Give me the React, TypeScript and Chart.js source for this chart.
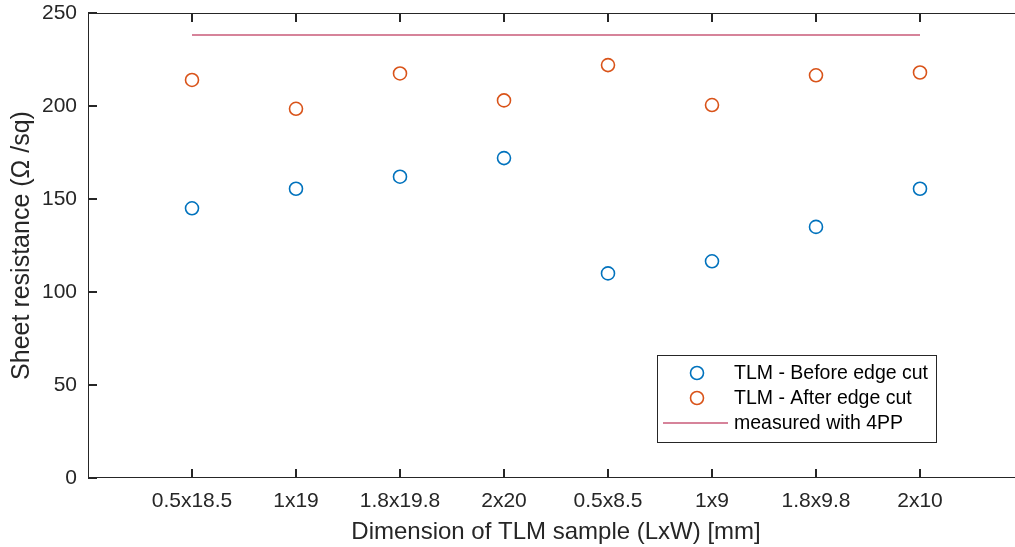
import React, { useEffect, useRef } from "react";
import { Chart, registerables } from "chart.js";

Chart.register(...registerables);

const categories = ["0.5x18.5", "1x19", "1.8x19.8", "2x20", "0.5x8.5", "1x9", "1.8x9.8", "2x10"];
const beforeCut = [145, 155.5, 162, 172, 110, 116.5, 135, 155.5];
const afterCut = [214, 198.5, 217.5, 203, 222, 200.5, 216.5, 218];
const fourPP = 238.2;
const yTicks = [0, 50, 100, 150, 200, 250];
const seriesNames = ["TLM - Before edge cut", "TLM - After edge cut", "measured with 4PP"];

const BLUE = "#0072BD";
const ORANGE = "#D95319";
const PINK = "#C95A78";
const AXIS = "#262626";
const FONT = "'Liberation Sans', Arial, sans-serif";

const boxPlugin = {
  id: "matlabBox",
  afterDraw(chart: any) {
    const ctx = chart.ctx;
    const { left, right, top, bottom } = chart.chartArea;
    const xs = chart.scales.x;
    const ys = chart.scales.y;
    ctx.save();
    ctx.strokeStyle = AXIS;
    ctx.lineWidth = 1;
    ctx.beginPath();
    ctx.rect(left + 0.5, top + 0.5, right - left - 1, bottom - top - 1);
    ctx.stroke();
    const tl = 9;
    ctx.lineWidth = 2;
    ctx.beginPath();
    categories.forEach((_, i) => {
      const px = Math.round(xs.getPixelForValue(i + 1));
      ctx.moveTo(px, bottom);
      ctx.lineTo(px, bottom - tl);
      ctx.moveTo(px, top);
      ctx.lineTo(px, top + tl);
    });
    yTicks.forEach((v) => {
      const py = Math.round(ys.getPixelForValue(v));
      ctx.moveTo(left, py);
      ctx.lineTo(left + tl, py);
      ctx.moveTo(right, py);
      ctx.lineTo(right - tl, py);
    });
    ctx.stroke();

    // legend
    const lx = 657, ly = 355, lw = 279, lh = 87;
    ctx.fillStyle = "#ffffff";
    ctx.fillRect(lx, ly, lw, lh);
    ctx.lineWidth = 1;
    ctx.strokeStyle = AXIS;
    ctx.strokeRect(lx + 0.5, ly + 0.5, lw, lh);
    const rows = [373, 398, 423];
    ctx.font = `19.5px ${FONT}`;
    ctx.textBaseline = "middle";
    ctx.textAlign = "left";
    rows.forEach((ry, i) => {
      if (i < 2) {
        ctx.strokeStyle = i === 0 ? BLUE : ORANGE;
        ctx.lineWidth = 1.6;
        ctx.beginPath();
        ctx.arc(697, ry, 6.5, 0, Math.PI * 2);
        ctx.stroke();
      } else {
        ctx.strokeStyle = PINK;
        ctx.lineWidth = 1.6;
        ctx.beginPath();
        ctx.moveTo(663, ry);
        ctx.lineTo(728, ry);
        ctx.stroke();
      }
      ctx.fillStyle = "#000000";
      ctx.fillText(seriesNames[i], 734, ry + 1);
    });
    ctx.restore();
  },
};

export default function App() {
  const ref = useRef<HTMLCanvasElement>(null);
  useEffect(() => {
    if (!ref.current) return;
    const chart = new Chart(ref.current, {
      type: "scatter",
      data: {
        datasets: [
          {
            label: seriesNames[0],
            data: beforeCut.map((y, i) => ({ x: i + 1, y })),
            pointStyle: "circle",
            pointRadius: 6.5,
            pointBorderWidth: 1.6,
            borderColor: BLUE,
            backgroundColor: "rgba(0,0,0,0)",
            pointBackgroundColor: "rgba(0,0,0,0)",
          },
          {
            label: seriesNames[1],
            data: afterCut.map((y, i) => ({ x: i + 1, y })),
            pointStyle: "circle",
            pointRadius: 6.5,
            pointBorderWidth: 1.6,
            borderColor: ORANGE,
            backgroundColor: "rgba(0,0,0,0)",
            pointBackgroundColor: "rgba(0,0,0,0)",
          },
          {
            label: seriesNames[2],
            data: [
              { x: 1, y: fourPP },
              { x: categories.length, y: fourPP },
            ],
            showLine: true,
            pointRadius: 0,
            borderColor: PINK,
            borderWidth: 1.6,
          },
        ],
      },
      options: {
        animation: false,
        responsive: false,
        layout: { padding: { top: 13, right: 16, left: 0, bottom: 0 } },
        plugins: { legend: { display: false }, tooltip: { enabled: false } },
        scales: {
          x: {
            type: "linear",
            min: 0,
            max: categories.length + 1,
            grid: { display: false, drawTicks: false },
            border: { display: false },
            afterBuildTicks: (s: any) => {
              s.ticks = categories.map((_, i) => ({ value: i + 1 }));
            },
            afterFit: (s: any) => {
              s.height = 69;
              s.paddingLeft = 0;
              s.paddingRight = 0;
            },
            ticks: {
              autoSkip: false,
              maxRotation: 0,
              padding: 11,
              color: "#262626",
              font: { family: FONT, size: 21 },
              callback: (v: any) => categories[Math.round(v) - 1] ?? "",
            },
            title: {
              display: true,
              text: "Dimension of TLM sample (LxW) [mm]",
              color: "#262626",
              font: { family: FONT, size: 24 },
              padding: { top: 2, bottom: 0 },
            },
          },
          y: {
            min: 0,
            max: 250,
            grid: { display: false, drawTicks: false },
            border: { display: false },
            afterBuildTicks: (s: any) => {
              s.ticks = yTicks.map((v) => ({ value: v }));
            },
            afterFit: (s: any) => {
              s.width = 88;
              s.paddingTop = 0;
              s.paddingBottom = 0;
            },
            ticks: {
              padding: 11,
              color: "#262626",
              font: { family: FONT, size: 21 },
            },
            title: {
              display: true,
              text: "Sheet resistance (Ω /sq)",
              color: "#262626",
              font: { family: FONT, size: 25 },
              padding: { top: 7, bottom: 0 },
            },
          },
        },
      },
      plugins: [boxPlugin],
    } as any);
    return () => chart.destroy();
  }, []);
  return (
    <div
      style={{
        position: "fixed",
        left: 0,
        top: 0,
        width: 1015,
        height: 547,
        overflow: "hidden",
        background: "#fff",
      }}
    >
      <canvas ref={ref} width={1040} height={547} style={{ display: "block" }} />
    </div>
  );
}
